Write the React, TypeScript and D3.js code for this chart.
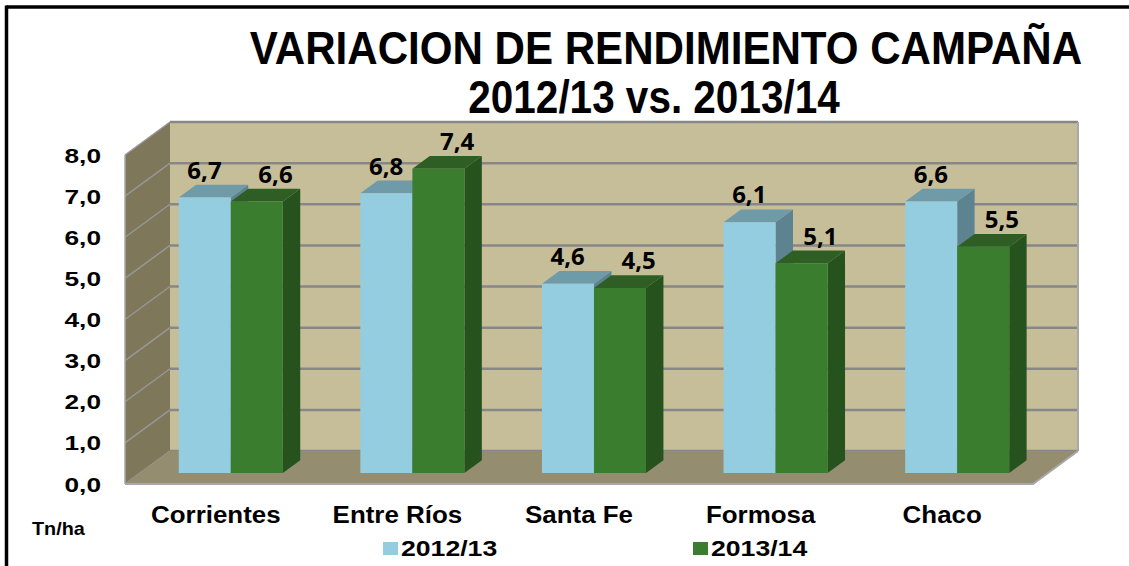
import * as d3 from 'd3';

const categories = ['Corrientes', 'Entre Ríos', 'Santa Fe', 'Formosa', 'Chaco'];
const seriesNames = ['2012/13', '2013/14'];
const values2012 = [6.7, 6.8, 4.6, 6.1, 6.6];
const values2013 = [6.6, 7.4, 4.5, 5.1, 5.5];
const yTicks = [0, 1, 2, 3, 4, 5, 6, 7, 8];

const W = 1129;
const H = 566;

// 3d box: front plane + depth offset
const DX = 45;
const DY = 33;
const Z0 = 0.333;
const Z1 = 0.72;

const colors = [
  { front: '#93cddf', top: '#6f9aa8', side: '#5e8390' },
  { front: '#3b7d2f', top: '#2e5e24', side: '#26521e' },
];

const ARIAL = '"Liberation Sans", Arial, sans-serif';

function fmt(v: number) {
  return v.toFixed(1).replace('.', ',');
}

export default function App() {
  const y = d3.scaleLinear().domain([0, 8]).range([484, 155]);
  const x0 = d3.scaleBand<string>().domain(categories).range([125, 1033]);
  const groupW = x0.bandwidth() * 0.573;
  const x1 = d3.scaleBand<string>().domain(seriesNames).range([0, groupW]);

  const P = (xf: number, v: number, z: number): [number, number] => [xf + z * DX, y(v) - z * DY];
  const poly = (pts: [number, number][]) => pts.map(p => p.join(',')).join(' ');

  const xL = x0.range()[0];
  const xR = x0.range()[1];

  const bars = categories.flatMap((c, i) =>
    [values2012[i], values2013[i]].map((v, j) => {
      const left = (x0(c) as number) + (x0.bandwidth() - groupW) / 2 + (x1(seriesNames[j]) as number);
      const right = left + x1.bandwidth();
      return { c, j, v, left, right };
    })
  );

  return (
    <svg width={W} height={H} style={{ position: 'absolute', left: 0, top: 0, background: '#fff' }}>
      {/* frame */}
      <line x1={6.5} y1={7} x2={W} y2={7} stroke="#000" strokeWidth={3.5} />
      <line x1={6.5} y1={5.5} x2={6.5} y2={H} stroke="#000" strokeWidth={3.5} />

      {/* title */}
      <g fontFamily={ARIAL} fontWeight="bold" fill="#000" textAnchor="middle" fontSize={46}>
        <text transform="translate(666,64) scale(0.915,1)">VARIACION DE RENDIMIENTO CAMPAÑA</text>
        <text transform="translate(654,113) scale(0.88,1)">2012/13 vs. 2013/14</text>
      </g>

      {/* side wall */}
      <polygon points={poly([P(xL, 0, 0), P(xL, 8, 0), P(xL, 8, 1), P(xL, 0, 1)])} fill="#7e7759" />
      {/* back wall */}
      <polygon points={poly([P(xL, 0, 1), P(xL, 8, 1), P(xR, 8, 1), P(xR, 0, 1)])} fill="#c6be99" />
      {/* gridlines */}
      {yTicks.map(t => (
        <g key={t}>
          <line x1={P(xL, t, 0)[0]} y1={P(xL, t, 0)[1]} x2={P(xL, t, 1)[0]} y2={P(xL, t, 1)[1]} stroke="#979797" strokeWidth={1.5} />
          <line x1={P(xL, t, 1)[0]} y1={P(xL, t, 1)[1]} x2={P(xR, t, 1)[0]} y2={P(xR, t, 1)[1]} stroke="#878787" strokeWidth={2.5} />
        </g>
      ))}
      <line x1={P(xR, 0, 1)[0]} y1={P(xR, 0, 1)[1]} x2={P(xR, 8, 1)[0]} y2={P(xR, 8, 1)[1]} stroke="#a8a8a8" strokeWidth={2} />
      <line x1={P(xL, 0, 0)[0]} y1={P(xL, 0, 0)[1]} x2={P(xL, 8, 0)[0]} y2={P(xL, 8, 0)[1]} stroke="#a8a8a8" strokeWidth={1.5} />
      {/* floor */}
      <polygon points={poly([P(xL, 0, 0), P(xL, 0, 1), P(xR, 0, 1), P(xR, 0, 0)])} fill="#958d6f" />
      <polyline points={poly([P(xL, 0, 0), P(xR, 0, 0), P(xR, 0, 1)])} fill="none" stroke="#a8a8a8" strokeWidth={2} />

      {/* bars */}
      {bars.map((b, k) => {
        const col = colors[b.j];
        return (
          <g key={k}>
            <polygon points={poly([P(b.right, 0, Z0), P(b.right, 0, Z1), P(b.right, b.v, Z1), P(b.right, b.v, Z0)])} fill={col.side} />
            <polygon points={poly([P(b.left, b.v, Z0), P(b.right, b.v, Z0), P(b.right, b.v, Z1), P(b.left, b.v, Z1)])} fill={col.top} />
            <polygon points={poly([P(b.left, 0, Z0), P(b.right, 0, Z0), P(b.right, b.v, Z0), P(b.left, b.v, Z0)])} fill={col.front} />
          </g>
        );
      })}

      {/* value labels */}
      <g fontFamily='"Open Sans", sans-serif' fontWeight="bold" fontSize={24} textAnchor="middle" fill="#000">
        {bars.map((b, k) => {
          const cx = (b.left + b.right) / 2 + ((Z0 + Z1) / 2) * DX + (b.j === 0 ? -9 : 10);
          const cy = y(b.v) - Z1 * DY - 6;
          return <text key={k} x={cx} y={cy}>{fmt(b.v)}</text>;
        })}
      </g>

      {/* y axis labels */}
      <g fontFamily={ARIAL} fontWeight="bold" fontSize={21} fill="#000">
        {yTicks.map(t => (
          <text key={t} transform={`translate(101,${y(t) + 7.5}) scale(1.25,1)`} textAnchor="end">{fmt(t)}</text>
        ))}
      </g>
      <text transform="translate(32,535) scale(1.1,1)" fontFamily={ARIAL} fontWeight="bold" fontSize={18}>Tn/ha</text>

      {/* category labels */}
      <g fontFamily={ARIAL} fontWeight="bold" fontSize={24} fill="#000">
        {categories.map(c => (
          <text key={c} transform={`translate(${(x0(c) as number) + x0.bandwidth() / 2},523) scale(1.08,1)`} textAnchor="middle">{c}</text>
        ))}
      </g>

      {/* legend */}
      <g fontFamily={ARIAL} fontWeight="bold" fontSize={22} fill="#000">
        {seriesNames.map((s, i) => (
          <g key={s} transform={`translate(${383 + i * 310},0)`}>
            <rect x={0} y={542} width={15} height={13} fill={colors[i].front} />
            <text transform="translate(18,556) scale(1.21,1)">{s}</text>
          </g>
        ))}
      </g>
    </svg>
  );
}
